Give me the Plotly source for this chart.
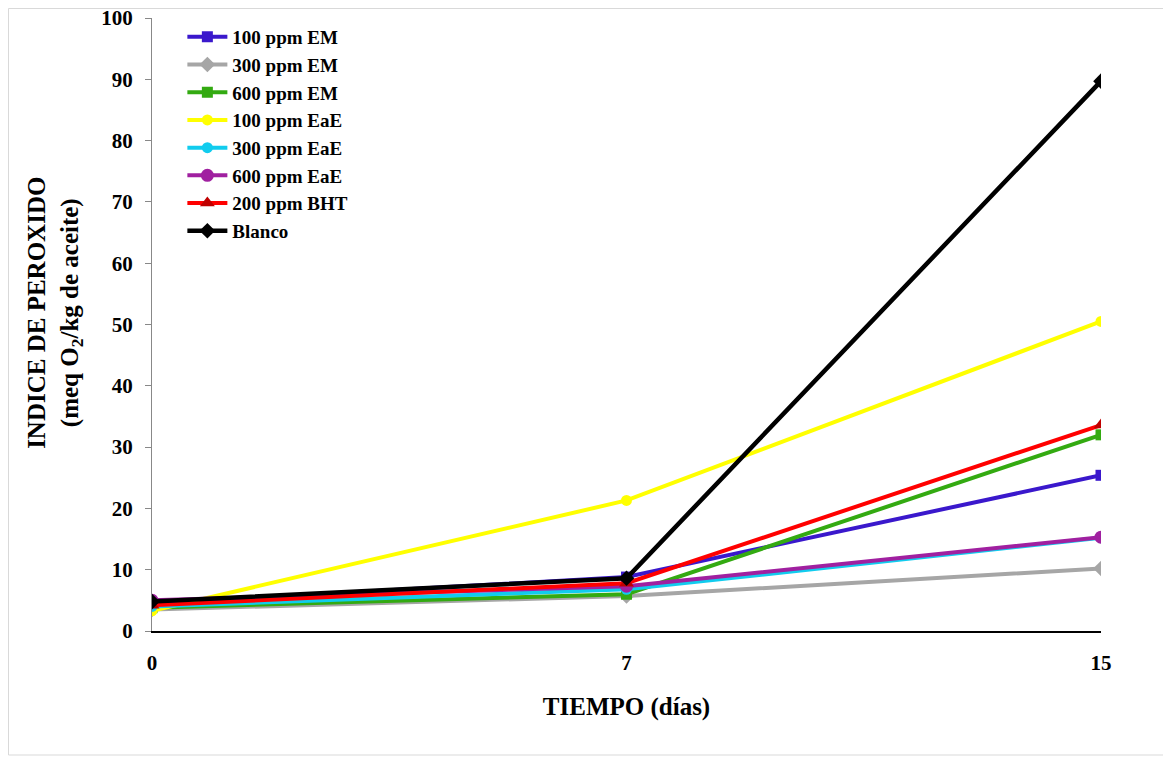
import plotly.graph_objects as go

dias = ["0", "7", "15"]
series_names = ["100 ppm EM", "300 ppm EM", "600 ppm EM", "100 ppm EaE",
                "300 ppm EaE", "600 ppm EaE", "200 ppm BHT", "Blanco"]
em100 = [4.5, 8.8, 25.4]
em300 = [3.5, 5.7, 10.2]
em600 = [3.8, 6.0, 32.0]
eae100 = [3.3, 21.3, 50.5]
eae300 = [4.0, 6.8, 15.2]
eae600 = [5.0, 7.3, 15.3]
bht200 = [4.2, 7.8, 33.6]
blanco = [4.8, 8.6, 89.7]

values = [em100, em300, em600, eae100, eae300, eae600, bht200, blanco]
line_colors = ["#3A18CC", "#A6A6A6", "#33AA11", "#FFFF00", "#11CCEE", "#A020A0", "#FF0000", "#000000"]
marker_colors = ["#3A18CC", "#A6A6A6", "#33AA11", "#FFFF00", "#11CCEE", "#A020A0", "#C00000", "#000000"]
symbols = ["square", "diamond", "square", "circle", "circle", "circle", "triangle-up", "diamond"]
msizes = [11, 12, 11, 11, 11, 13, 13, 12]

fig = go.Figure()
for name, v, lc, mc, s, ms in zip(series_names, values, line_colors, marker_colors, symbols, msizes):
    fig.add_trace(go.Scatter(
        x=dias, y=v, name=name, mode="lines+markers",
        line=dict(color=lc, width=4 if name != "Blanco" else 4.5),
        marker=dict(symbol=s, size=ms, color=mc),
    ))

font_family = "Liberation Serif, Times New Roman, serif"
fig.update_layout(
    width=1171, height=758,
    margin=dict(l=144, r=78, t=10, b=135),
    paper_bgcolor="white", plot_bgcolor="white",
    font=dict(family=font_family, color="black"),
    showlegend=True,
    legend=dict(x=0.032, y=1.0, xanchor="left", yanchor="top",
                font=dict(family=font_family, size=19, color="black", weight="bold"),
                bgcolor="rgba(0,0,0,0)", tracegroupgap=0, itemwidth=40),
    xaxis=dict(type="category", range=[0, 2], showgrid=False, zeroline=False,
               showline=True, linecolor="black", linewidth=1.5, automargin=False,
               ticks="", tickfont=dict(size=21, weight="bold", family=font_family),
               ticklabelstandoff=12,
               title=dict(text="<b>TIEMPO (días)</b>", font=dict(size=25, family=font_family), standoff=24)),
    yaxis=dict(range=[0, 100], dtick=10, showgrid=False, zeroline=False,
               showline=True, linecolor="#888888", linewidth=1, automargin=False,
               ticks="outside", ticklen=6, tickcolor="#888888",
               tickfont=dict(size=21, weight="bold", family=font_family),
               ticklabelstandoff=8, ticklabeloverflow="allow"),
    annotations=[dict(text="<b>INDICE DE PEROXIDO<br>(meq O<sub>2</sub>/kg de aceite)</b>",
                      xref="paper", yref="paper", x=-0.1022, y=0.519,
                      xanchor="center", yanchor="middle", textangle=-90, showarrow=False,
                      font=dict(size=25, family=font_family, color="black"))],
    shapes=[dict(type="rect", xref="paper", yref="paper",
                 x0=-0.1512, x1=1.0675, y0=-0.2023, y1=1.0155,
                 line=dict(color="#D9D9D9", width=1), fillcolor="rgba(0,0,0,0)", layer="below")],
)

fig.write_html("out.html")
